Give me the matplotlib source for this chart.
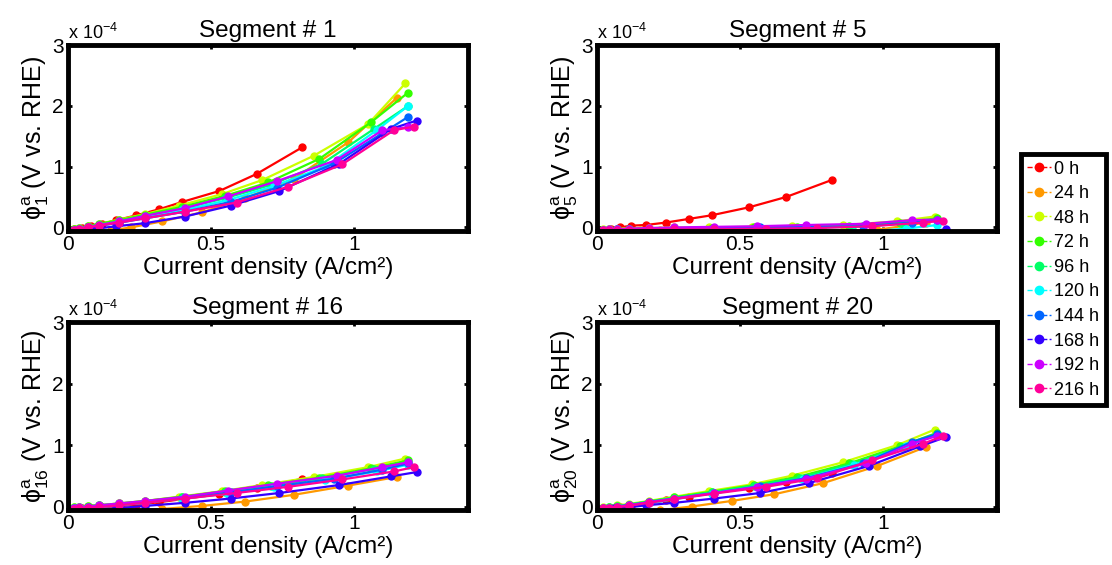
import matplotlib
matplotlib.use('Agg')
import matplotlib.pyplot as plt
from matplotlib.lines import Line2D

plt.rcParams['font.family'] = ['Liberation Sans', 'DejaVu Sans']
plt.rcParams['mathtext.fontset'] = 'custom'
plt.rcParams['mathtext.rm'] = 'Liberation Sans'
plt.rcParams['mathtext.it'] = 'Liberation Sans'

labels = ['0 h', '24 h', '48 h', '72 h', '96 h', '120 h', '144 h', '168 h', '192 h', '216 h']
colors = [(1, 0, 0), (1, 0.6, 0), (0.8, 1, 0), (0.2, 1, 0), (0, 1, 0.4),
          (0, 1, 1), (0, 0.4, 1), (0.2, 0, 1), (0.8, 0, 1), (1, 0, 0.6)]

# current density per test time (A/cm2)
x_data = [
    [0, 0.02, 0.05, 0.08, 0.12, 0.17, 0.24, 0.32, 0.40, 0.53, 0.66, 0.82],
    [0, 0.02, 0.05, 0.09, 0.15, 0.22, 0.33, 0.47, 0.62, 0.79, 0.98, 1.15],
    [0, 0.02, 0.04, 0.07, 0.11, 0.18, 0.27, 0.39, 0.54, 0.68, 0.86, 1.05, 1.18],
    [0, 0.02, 0.04, 0.07, 0.11, 0.18, 0.27, 0.40, 0.55, 0.70, 0.88, 1.06, 1.19],
    [0, 0.02, 0.04, 0.07, 0.11, 0.18, 0.27, 0.40, 0.55, 0.71, 0.89, 1.07, 1.19],
    [0, 0.02, 0.04, 0.07, 0.11, 0.18, 0.27, 0.40, 0.56, 0.72, 0.90, 1.08, 1.19],
    [0, 0.02, 0.04, 0.07, 0.11, 0.18, 0.27, 0.41, 0.57, 0.73, 0.93, 1.10, 1.19],
    [0, 0.03, 0.06, 0.10, 0.17, 0.27, 0.41, 0.57, 0.74, 0.95, 1.13, 1.22],
    [0, 0.02, 0.04, 0.07, 0.11, 0.18, 0.27, 0.41, 0.56, 0.73, 0.94, 1.10, 1.19],
    [0, 0.02, 0.04, 0.07, 0.11, 0.18, 0.27, 0.41, 0.59, 0.77, 0.96, 1.14, 1.21],
]

# anode potential, units of 1e-4 V
seg1 = [
    [-0.05, -0.03, -0.01, 0.02, 0.06, 0.12, 0.20, 0.30, 0.42, 0.60, 0.88, 1.32],
    [-0.05, -0.06, -0.07, -0.06, -0.05, 0.00, 0.10, 0.25, 0.48, 0.80, 1.40, 2.13],
    [-0.05, -0.03, -0.01, 0.02, 0.06, 0.13, 0.22, 0.36, 0.55, 0.78, 1.18, 1.70, 2.37],
    [-0.05, -0.03, -0.01, 0.02, 0.06, 0.12, 0.21, 0.34, 0.52, 0.74, 1.13, 1.73, 2.22],
    [-0.05, -0.04, -0.02, 0.01, 0.04, 0.10, 0.19, 0.31, 0.48, 0.70, 1.05, 1.62, 2.00],
    [-0.06, -0.05, -0.03, 0.00, 0.03, 0.08, 0.16, 0.28, 0.45, 0.68, 1.00, 1.60, 2.00],
    [-0.06, -0.05, -0.03, 0.00, 0.03, 0.08, 0.15, 0.26, 0.42, 0.65, 1.05, 1.55, 1.82],
    [-0.07, -0.06, -0.04, -0.02, 0.02, 0.07, 0.18, 0.36, 0.60, 1.05, 1.62, 1.76],
    [-0.05, -0.04, -0.02, 0.01, 0.04, 0.10, 0.19, 0.32, 0.51, 0.76, 1.11, 1.60, 1.65],
    [-0.05, -0.04, -0.02, 0.00, 0.03, 0.08, 0.15, 0.26, 0.41, 0.67, 1.04, 1.60, 1.66],
]
seg5 = [
    [-0.05, -0.04, -0.03, 0.00, 0.03, 0.04, 0.08, 0.14, 0.20, 0.33, 0.50, 0.78],
    [-0.05, -0.05, -0.06, -0.06, -0.05, -0.05, -0.04, -0.04, -0.05, -0.05, -0.04, 0.08],
    [-0.04, -0.03, -0.03, -0.02, -0.02, -0.01, 0.00, 0.00, 0.01, 0.02, 0.04, 0.10, 0.18],
    [-0.04, -0.04, -0.03, -0.03, -0.02, -0.02, -0.01, -0.01, 0.00, 0.01, 0.03, 0.08, 0.15],
    [-0.05, -0.04, -0.04, -0.03, -0.03, -0.02, -0.02, -0.02, -0.02, -0.01, 0.01, 0.06, 0.12],
    [-0.06, -0.05, -0.05, -0.05, -0.05, -0.05, -0.05, -0.05, -0.06, -0.08, -0.08, -0.02, 0.04],
    [-0.05, -0.04, -0.04, -0.03, -0.03, -0.02, -0.02, -0.01, 0.00, 0.01, 0.02, 0.08, 0.13],
    [-0.07, -0.07, -0.07, -0.07, -0.07, -0.08, -0.08, -0.08, -0.09, -0.10, -0.09, -0.03],
    [-0.04, -0.04, -0.03, -0.03, -0.02, -0.01, 0.00, 0.01, 0.02, 0.04, 0.06, 0.12, 0.13],
    [-0.05, -0.05, -0.04, -0.04, -0.04, -0.03, -0.03, -0.03, -0.02, -0.01, 0.02, 0.08, 0.11],
]
seg16 = [
    [-0.05, -0.04, -0.03, -0.02, -0.01, 0.00, 0.03, 0.07, 0.12, 0.20, 0.30, 0.45],
    [-0.12, -0.12, -0.11, -0.10, -0.08, -0.06, -0.04, 0.01, 0.08, 0.19, 0.34, 0.48],
    [-0.02, -0.01, 0.00, 0.01, 0.02, 0.05, 0.09, 0.16, 0.25, 0.35, 0.48, 0.64, 0.78],
    [-0.02, -0.01, 0.00, 0.01, 0.02, 0.05, 0.09, 0.16, 0.25, 0.35, 0.47, 0.62, 0.75],
    [-0.03, -0.02, -0.01, 0.00, 0.02, 0.04, 0.08, 0.15, 0.24, 0.34, 0.46, 0.61, 0.72],
    [-0.04, -0.03, -0.02, -0.02, -0.01, 0.02, 0.06, 0.13, 0.21, 0.31, 0.43, 0.57, 0.68],
    [-0.04, -0.03, -0.02, -0.01, 0.00, 0.03, 0.07, 0.14, 0.23, 0.33, 0.45, 0.60, 0.70],
    [-0.07, -0.06, -0.06, -0.05, -0.03, 0.01, 0.06, 0.13, 0.22, 0.35, 0.49, 0.56],
    [-0.03, -0.02, -0.01, 0.00, 0.02, 0.05, 0.09, 0.16, 0.26, 0.37, 0.50, 0.64, 0.72],
    [-0.04, -0.04, -0.03, -0.02, -0.01, 0.02, 0.06, 0.13, 0.22, 0.32, 0.44, 0.57, 0.64],
]
seg20 = [
    [-0.05, -0.04, -0.03, -0.01, 0.01, 0.04, 0.10, 0.16, 0.22, 0.30, 0.40, 0.55],
    [-0.10, -0.10, -0.10, -0.10, -0.09, -0.06, 0.00, 0.09, 0.20, 0.38, 0.66, 0.97],
    [-0.02, -0.01, 0.00, 0.02, 0.04, 0.09, 0.16, 0.25, 0.36, 0.50, 0.72, 1.00, 1.25],
    [-0.03, -0.02, -0.01, 0.01, 0.03, 0.08, 0.15, 0.24, 0.35, 0.48, 0.70, 0.98, 1.20],
    [-0.03, -0.02, -0.01, 0.01, 0.03, 0.08, 0.14, 0.23, 0.34, 0.47, 0.69, 0.97, 1.18],
    [-0.06, -0.05, -0.04, -0.02, 0.00, 0.05, 0.12, 0.21, 0.32, 0.45, 0.68, 0.98, 1.17],
    [-0.04, -0.03, -0.02, 0.00, 0.02, 0.07, 0.13, 0.22, 0.33, 0.46, 0.70, 1.05, 1.18],
    [-0.06, -0.05, -0.03, -0.02, 0.02, 0.06, 0.13, 0.22, 0.38, 0.66, 0.98, 1.13],
    [-0.04, -0.03, -0.02, 0.00, 0.02, 0.07, 0.13, 0.22, 0.32, 0.45, 0.70, 1.02, 1.15],
    [-0.04, -0.03, -0.02, -0.01, 0.01, 0.06, 0.12, 0.21, 0.32, 0.46, 0.75, 1.02, 1.15],
]

segments = [1, 5, 16, 20]
seg_data = [seg1, seg5, seg16, seg20]

fig = plt.figure(figsize=(11.12, 5.65), dpi=100)
positions = [[0.061, 0.591, 0.360, 0.329], [0.537, 0.591, 0.360, 0.329],
             [0.061, 0.097, 0.360, 0.333], [0.537, 0.097, 0.360, 0.333]]

for pos, seg, ydata in zip(positions, segments, seg_data):
    ax = fig.add_axes(pos)
    for xs, ys, c in zip(x_data, ydata, colors):
        ax.plot(xs, ys, '-o', color=c, lw=1.6, ms=5)
    ax.set_xlim(0, 1.4)
    ax.set_ylim(-0.06, 3)
    ax.set_xticks([0, 0.5, 1])
    ax.set_xticklabels(['0', '0.5', '1'])
    ax.set_yticks([0, 1, 2, 3])
    ax.tick_params(direction='in', length=3, width=2, labelsize=15,
                   top=True, right=True, pad=3)
    for sp in ax.spines.values():
        sp.set_linewidth(3.5)
    ax.set_title('Segment # %d' % seg, fontsize=17.5, pad=6)
    ax.set_xlabel('Current density (A/cm²)', fontsize=17.5, labelpad=2)
    ax.set_ylabel(r'$\mathrm{\phi}^{a}_{%d}$ (V vs. RHE)' % seg, fontsize=18, labelpad=1)
    ax.text(0.0, 1.012, r'x 10$^{-4}$', transform=ax.transAxes, fontsize=13,
            ha='left', va='bottom')

handles = [Line2D([], [], color=c, ls='--', lw=1, marker='o', ms=6) for c in colors]
leg = fig.legend(handles, labels, loc='center left', bbox_to_anchor=(0.918, 0.505),
                 fontsize=13, frameon=True, fancybox=False, edgecolor='black',
                 framealpha=1, handlelength=1.3, handletextpad=0.2, labelspacing=0.42,
                 borderpad=0.35, borderaxespad=0)
leg.get_frame().set_linewidth(3.5)

fig.savefig('out.png', dpi=100)
